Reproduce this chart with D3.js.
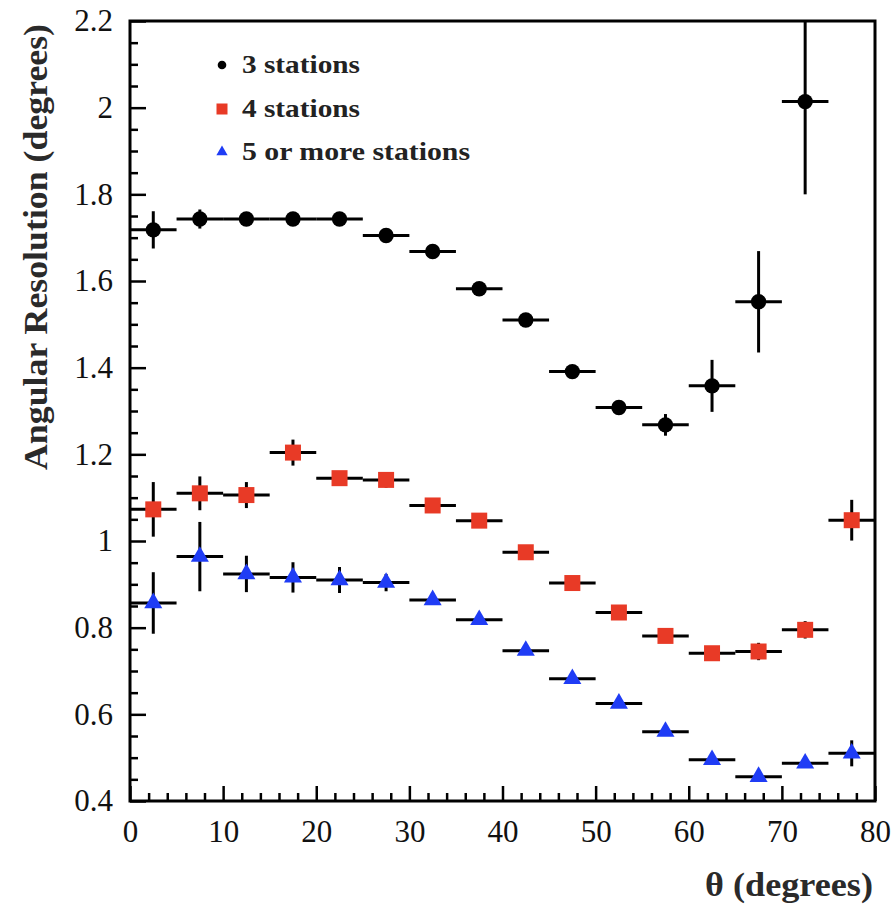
<!DOCTYPE html>
<html><head><meta charset="utf-8">
<script src="https://cdn.jsdelivr.net/npm/d3@7"></script>
<style>body{margin:0;background:#fff}svg{display:block}</style>
</head><body>
<svg id="c" width="896" height="910"></svg>
<script>
const thetaCenters = [2.5,7.5,12.5,17.5,22.5,27.5,32.5,37.5,42.5,47.5,52.5,57.5,62.5,67.5,72.5,77.5];
const binHalfWidth = 2.5;
const threeStations = [1.718,1.743,1.743,1.743,1.743,1.705,1.668,1.582,1.510,1.391,1.308,1.268,1.358,1.552,2.014,null];
const threeErr      = [0.043,0.022,0.010,0.010,0.010,0.010,0.010,0.010,0.010,0.010,0.010,0.025,0.060,0.117,0.214,null];
const fourStations  = [1.073,1.110,1.106,1.204,1.145,1.141,1.082,1.047,0.974,0.903,0.835,0.781,0.741,0.745,0.795,1.048];
const fourErr       = [0.063,0.039,0.030,0.030,0.012,0.018,0.010,0.010,0.010,0.010,0.010,0.010,0.010,0.020,0.020,0.047];
const fiveStations  = [0.857,0.964,0.924,0.916,0.910,0.904,0.864,0.818,0.747,0.682,0.625,0.560,0.495,0.456,0.487,0.510];
const fiveErr       = [0.071,0.080,0.042,0.035,0.030,0.020,0.010,0.010,0.010,0.010,0.010,0.010,0.010,0.010,0.010,0.030];
const seriesNames = ["3 stations","4 stations","5 or more stations"];
const xTicks = [0,10,20,30,40,50,60,70,80];
const yTicks = [0.4,0.6,0.8,1,1.2,1.4,1.6,1.8,2,2.2];
const xDomain = [0,80], yDomain = [0.4,2.2];

const L=130, R=875, T=21, B=801;
const svg = d3.select("#c");
const x = d3.scaleLinear().domain(xDomain).range([L,R]);
const y = d3.scaleLinear().domain(yDomain).range([B,T]);
const font = "'Liberation Serif', serif";

svg.append("defs").append("clipPath").attr("id","clip")
  .append("rect").attr("x",L).attr("y",T).attr("width",R-L).attr("height",B-T);

const xMinor = d3.range(0,80.001,2).filter(v=>v%10!==0);
const yMinor = d3.range(0.4,2.2001,0.05).map(v=>+v.toFixed(2)).filter(v=>Math.abs(v*5-Math.round(v*5))>1e-6);
const gx = svg.append("g").attr("transform",`translate(0,${B})`)
  .call(d3.axisBottom(x).tickValues(xTicks).tickSize(-15).tickFormat(d3.format("d")));
const gxm = svg.append("g").attr("transform",`translate(0,${B})`)
  .call(d3.axisBottom(x).tickValues(xMinor).tickSize(-8).tickFormat(""));
const gy = svg.append("g").attr("transform",`translate(${L},0)`)
  .call(d3.axisLeft(y).tickValues(yTicks).tickSize(-16).tickPadding(17).tickFormat(d=>String(+d.toFixed(1))));
const gym = svg.append("g").attr("transform",`translate(${L},0)`)
  .call(d3.axisLeft(y).tickValues(yMinor).tickSize(-8).tickFormat(""));
[gx,gxm,gy,gym].forEach(g=>{
  g.attr("font-family",font).attr("font-size",31);
  g.select(".domain").remove();
  g.selectAll(".tick line").attr("stroke","#000").attr("stroke-width",2.5);
  g.selectAll("text").attr("font-family",font).attr("font-size",31).attr("fill","#111");
});
gx.selectAll("text").attr("y",41).attr("dy",null);
// frame
svg.append("rect").attr("x",L).attr("y",T).attr("width",R-L).attr("height",B-T)
  .attr("fill","none").attr("stroke","#000").attr("stroke-width",3);

// axis titles
svg.append("text").attr("transform",`translate(47,${(24+470)/2}) rotate(-90)`)
  .attr("text-anchor","middle").attr("font-family",font).attr("font-weight","bold")
  .attr("font-size",33).attr("fill","#2a2a2a").attr("textLength",446).attr("lengthAdjust","spacingAndGlyphs")
  .text("Angular Resolution (degrees)");
svg.append("text").attr("x",873).attr("y",896).attr("text-anchor","end")
  .attr("font-family",font).attr("font-weight","bold").attr("font-size",34).attr("fill","#2a2a2a")
  .attr("textLength",168).attr("lengthAdjust","spacingAndGlyphs")
  .text("θ (degrees)");

const series = [
  {vals:threeStations, errs:threeErr, color:"#000000", shape:"circle"},
  {vals:fourStations, errs:fourErr, color:"#e83a26", shape:"square"},
  {vals:fiveStations, errs:fiveErr, color:"#1f3cf5", shape:"triangle"}
];
const plot = svg.append("g").attr("clip-path","url(#clip)");
function marker(g, shape, color, size){
  if(shape==="circle") g.append("circle").attr("r",size*0.48).attr("fill",color);
  else if(shape==="square") g.append("rect").attr("x",-size/2).attr("y",-size/2).attr("width",size).attr("height",size).attr("fill",color);
  else g.append("path").attr("d",d3.symbol(d3.symbolTriangle, size*size*0.55)()).attr("fill",color);
}
series.forEach(s=>{
  const pts = thetaCenters.map((t,i)=>({t, v:s.vals[i], e:s.errs[i]})).filter(d=>d.v!=null);
  const g = plot.append("g");
  g.selectAll("line.h").data(pts).join("line")
    .attr("x1",d=>x(d.t-binHalfWidth)).attr("x2",d=>x(d.t+binHalfWidth))
    .attr("y1",d=>y(d.v)).attr("y2",d=>y(d.v)).attr("stroke","#000").attr("stroke-width",3);
  g.selectAll("line.v").data(pts).join("line")
    .attr("x1",d=>x(d.t)).attr("x2",d=>x(d.t))
    .attr("y1",d=>y(d.v-d.e)).attr("y2",d=>y(d.v+d.e)).attr("stroke","#000").attr("stroke-width",3);
  pts.forEach(d=>{
    const m = g.append("g").attr("transform",`translate(${x(d.t)},${y(d.v)})`);
    marker(m, s.shape, s.color, 16);
  });
});

// legend
const legY = [65,109,152];
const legText = [118,118,228];
series.forEach((s,i)=>{
  const m = svg.append("g").attr("transform",`translate(222,${legY[i]})`);
  marker(m, s.shape, s.color, i===0?9:(i===1?11:10));
  svg.append("text").attr("x",242).attr("y",legY[i]+8).attr("font-family",font)
    .attr("font-weight","bold").attr("font-size",25).attr("fill","#222")
    .attr("textLength",legText[i]).attr("lengthAdjust","spacingAndGlyphs").text(seriesNames[i]);
});
</script>
</body></html>
